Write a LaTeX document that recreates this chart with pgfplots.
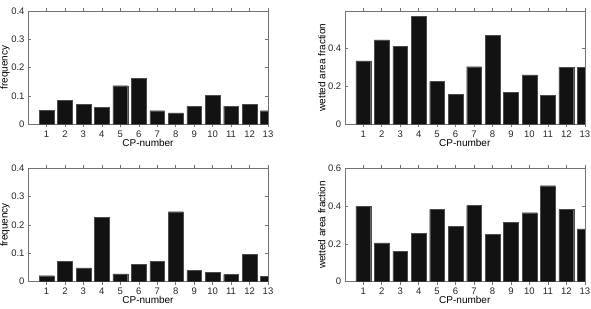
\documentclass[border=0pt]{standalone}
\usepackage{pgfplots}
\pgfplotsset{compat=1.18}
\usepackage{fontspec}
\setmainfont{Liberation Sans}

% CP frequency and wetted area fraction per circulation pattern
\pgfplotstableread{
cp  val
1   0.050
2   0.084
3   0.070
4   0.059
5   0.136
6   0.163
7   0.048
8   0.040
9   0.063
10  0.102
11  0.064
12  0.070
13  0.048
}\freqA
\pgfplotstableread{
cp  val
1   0.335
2   0.447
3   0.412
4   0.572
5   0.226
6   0.158
7   0.305
8   0.470
9   0.168
10  0.261
11  0.154
12  0.302
13  0.302
}\wetA
\pgfplotstableread{
cp  val
1   0.021
2   0.073
3   0.049
4   0.228
5   0.028
6   0.061
7   0.071
8   0.247
9   0.040
10  0.033
11  0.025
12  0.096
13  0.019
}\freqB
\pgfplotstableread{
cp  val
1   0.399
2   0.205
3   0.161
4   0.256
5   0.383
6   0.293
7   0.403
8   0.251
9   0.314
10  0.365
11  0.508
12  0.383
13  0.280
}\wetB

\pgfplotsset{
  cpbars/.style={
    width=240pt, height=113.4pt, scale only axis,
    anchor=south west,
    xmin=0, xmax=13, ymin=0,
    xtick={1,...,13},
    /pgf/number format/assume math mode=true,
    tick align=inside, tick pos=both,
    major tick length=3pt,
    axis line style={black!55, line width=0.6pt},
    every tick/.style={black!55, line width=0.5pt},
    tick label style={font=\fontsize{9.5}{11}\selectfont, text=black!85},
    label style={font=\fontsize{9.5}{11}\selectfont, text=black!85},
    xlabel={CP-number},
    every axis x label/.style={at={(axis description cs:0.5,-0.165)}, anchor=center},
    every axis y label/.style={at={(axis description cs:-0.096,0.5)}, rotate=90, anchor=center},
    ybar, bar width=0.8,
  },
  cpbar/.style={fill=black!93, draw=black!70, line width=0.3pt},
}

\begin{document}
\begin{tikzpicture}
\path[use as bounding box] (0,0) rectangle (591pt,308pt);

\begin{axis}[cpbars, at={(28pt,183.7pt)}, ymax=0.4,
  ytick={0,0.1,0.2,0.3,0.4}, yticklabels={0,0.1,0.2,0.3,0.4},
  ylabel={frequency}]
  \addplot[cpbar] table[x=cp, y=val] {\freqA};
\end{axis}

\begin{axis}[cpbars, at={(344.8pt,183.7pt)}, ymax=0.6,
  ytick={0,0.2,0.4}, yticklabels={0,0.2,0.4},
  ylabel={wetted area fraction}]
  \addplot[cpbar] table[x=cp, y=val] {\wetA};
\end{axis}

\begin{axis}[cpbars, at={(28pt,26.3pt)}, ymax=0.4,
  ytick={0,0.1,0.2,0.3,0.4}, yticklabels={0,0.1,0.2,0.3,0.4},
  ylabel={frequency}]
  \addplot[cpbar] table[x=cp, y=val] {\freqB};
\end{axis}

\begin{axis}[cpbars, at={(344.8pt,26.3pt)}, ymax=0.6,
  ytick={0,0.2,0.4,0.6}, yticklabels={0,0.2,0.4,0.6},
  ylabel={wetted area fraction}]
  \addplot[cpbar] table[x=cp, y=val] {\wetB};
\end{axis}
\end{tikzpicture}
\end{document}
